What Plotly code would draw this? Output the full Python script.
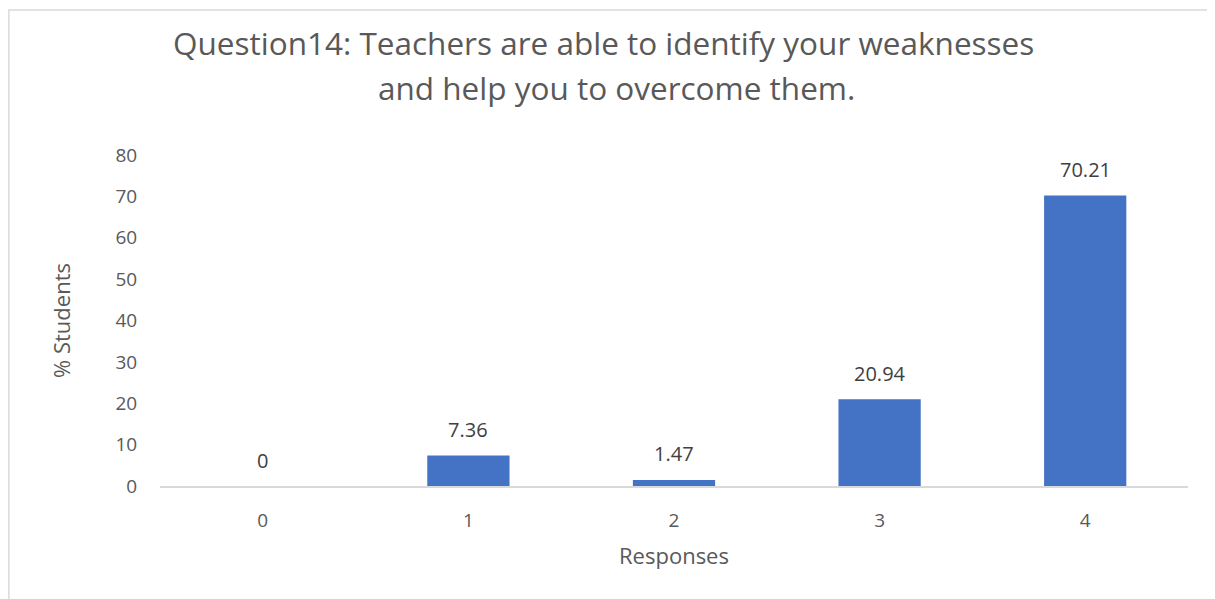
import plotly.graph_objects as go

# chart data
responses = ["0", "1", "2", "3", "4"]
pct_students = [0, 7.36, 1.47, 20.94, 70.21]
y_ticks = [0, 10, 20, 30, 40, 50, 60, 70, 80]

title_lines = ["Question14: Teachers are able to identify your weaknesses",
               "and help you to overcome them."]

grey = "#595959"
font_name = "Open Sans"

fig = go.Figure()
fig.add_trace(go.Bar(
    x=responses,
    y=pct_students,
    marker=dict(color="#4472c4", line=dict(width=0)),
    width=0.4,
    hoverinfo="x+y",
))

# value labels above the bars
for r, v in zip(responses, pct_students):
    fig.add_annotation(x=r, y=v, text=f"{v:g}", showarrow=False,
                       yanchor="middle", yshift=26,
                       font=dict(family=font_name, size=20, color="#404040"))

# two-line title, each line centred on its own
fig.add_annotation(x=0.431, y=1.341, xref="paper", yref="paper",
                   xanchor="center", yanchor="middle",
                   text=title_lines[0], showarrow=False,
                   font=dict(family=font_name, size=31.5, color=grey))
fig.add_annotation(x=0.4436, y=1.205, xref="paper", yref="paper",
                   xanchor="center", yanchor="middle",
                   text=title_lines[1], showarrow=False,
                   font=dict(family=font_name, size=31.5, color=grey))

# light grey frame round the chart area (only top and left edge visible)
fig.add_shape(type="path",
              path="M -0.147,-0.4 L -0.147,1.438 L 1.05,1.438",
              xref="paper", yref="paper",
              line=dict(color="#d9d9d9", width=1.5))

fig.update_layout(
    width=1215, height=599,
    margin=dict(l=152, r=35, t=147, b=121),
    paper_bgcolor="white",
    plot_bgcolor="white",
    showlegend=False,
    font=dict(family=font_name, color=grey),
    xaxis=dict(
        title=dict(text="Responses", font=dict(size=22, color=grey), standoff=17),
        tickfont=dict(size=19, color=grey),
        showline=True, linecolor="#d9d9d9", linewidth=1.5,
        showgrid=False, zeroline=False,
        ticks="outside", ticklen=16, tickcolor="rgba(0,0,0,0)",
        range=[-0.5, 4.5],
    ),
    yaxis=dict(
        title=dict(text="% Students", font=dict(size=22, color=grey), standoff=38),
        tickfont=dict(size=19, color=grey),
        tickvals=y_ticks,
        range=[0, 80],
        showgrid=False, zeroline=False, showline=False,
        ticks="outside", ticklen=18, tickcolor="rgba(0,0,0,0)",
    ),
)

fig.write_html("out.html")
